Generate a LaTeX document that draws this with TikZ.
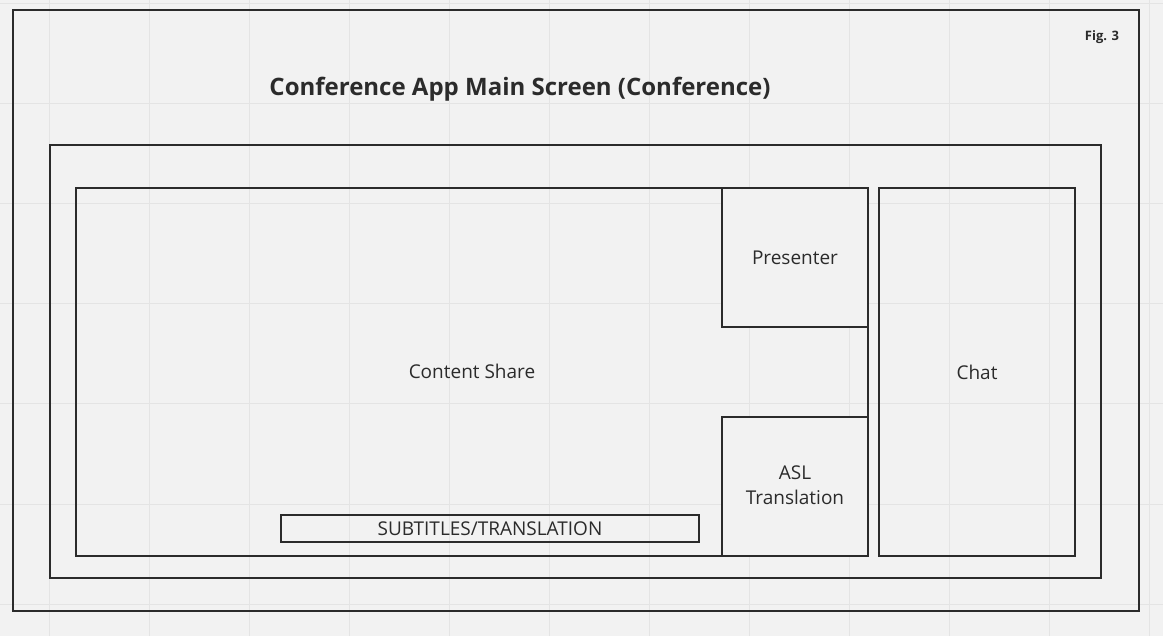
\documentclass[tikz,border=0pt]{standalone}
\usepackage{fontspec}
\setmainfont{Open Sans}
\definecolor{bg}{HTML}{F2F2F2}
\definecolor{gridc}{HTML}{E4E4E4}
\definecolor{ink}{HTML}{2B2B2B}
\tikzset{
  frame/.style={draw=ink, line width=1.8pt},
  panel/.style={draw=ink, line width=1.8pt, rectangle, inner sep=0pt},
  lbl/.style={text=ink, font=\fontsize{19}{23}\selectfont, align=center},
}
\begin{document}
\begin{tikzpicture}[x=1pt,y=-1pt]
\fill[bg] (0,0) rectangle (1163,636);
\useasboundingbox (0,0) rectangle (1163,636);
\foreach \gx in {49,149,...,1149} \draw[gridc, line width=1pt] (\gx,0) -- (\gx,636);
\foreach \gy in {4,104,...,604} \draw[gridc, line width=1pt] (0,\gy) -- (1163,\gy);
% frames
\draw[frame] (13,10) rectangle (1139,611);
\draw[frame] (50,145) rectangle (1101,578);
% title
\node[text=ink, font=\fontsize{24}{29}\selectfont\bfseries] (title) at (520,89) {Conference App Main Screen (Conference)};
\node[text=ink, font=\fontsize{13}{15}\selectfont\bfseries] (fig) at (1102,37.5) {Fig. 3};
% panels
\node[panel, minimum width=792pt, minimum height=368pt] (content) at (472,372) {};
\node[lbl] (contentlbl) at (472,371) {Content Share};
\node[panel, fill=bg, minimum width=146pt, minimum height=139pt, lbl] (presenter) at (795,257.5) {Presenter};
\node[panel, fill=bg, minimum width=146pt, minimum height=139pt] (asl) at (795,486.5) {};
\node[lbl, font=\fontsize{19}{25}\selectfont] (asllbl) at (795,485) {ASL\\Translation};
\node[panel, minimum width=196pt, minimum height=368pt, lbl] (chat) at (977,372) {Chat};
\node[panel, minimum width=418pt, minimum height=27pt, lbl, font=\fontsize{19}{22}\selectfont] (subs) at (490,528.5) {SUBTITLES/TRANSLATION};
\end{tikzpicture}
\end{document}
